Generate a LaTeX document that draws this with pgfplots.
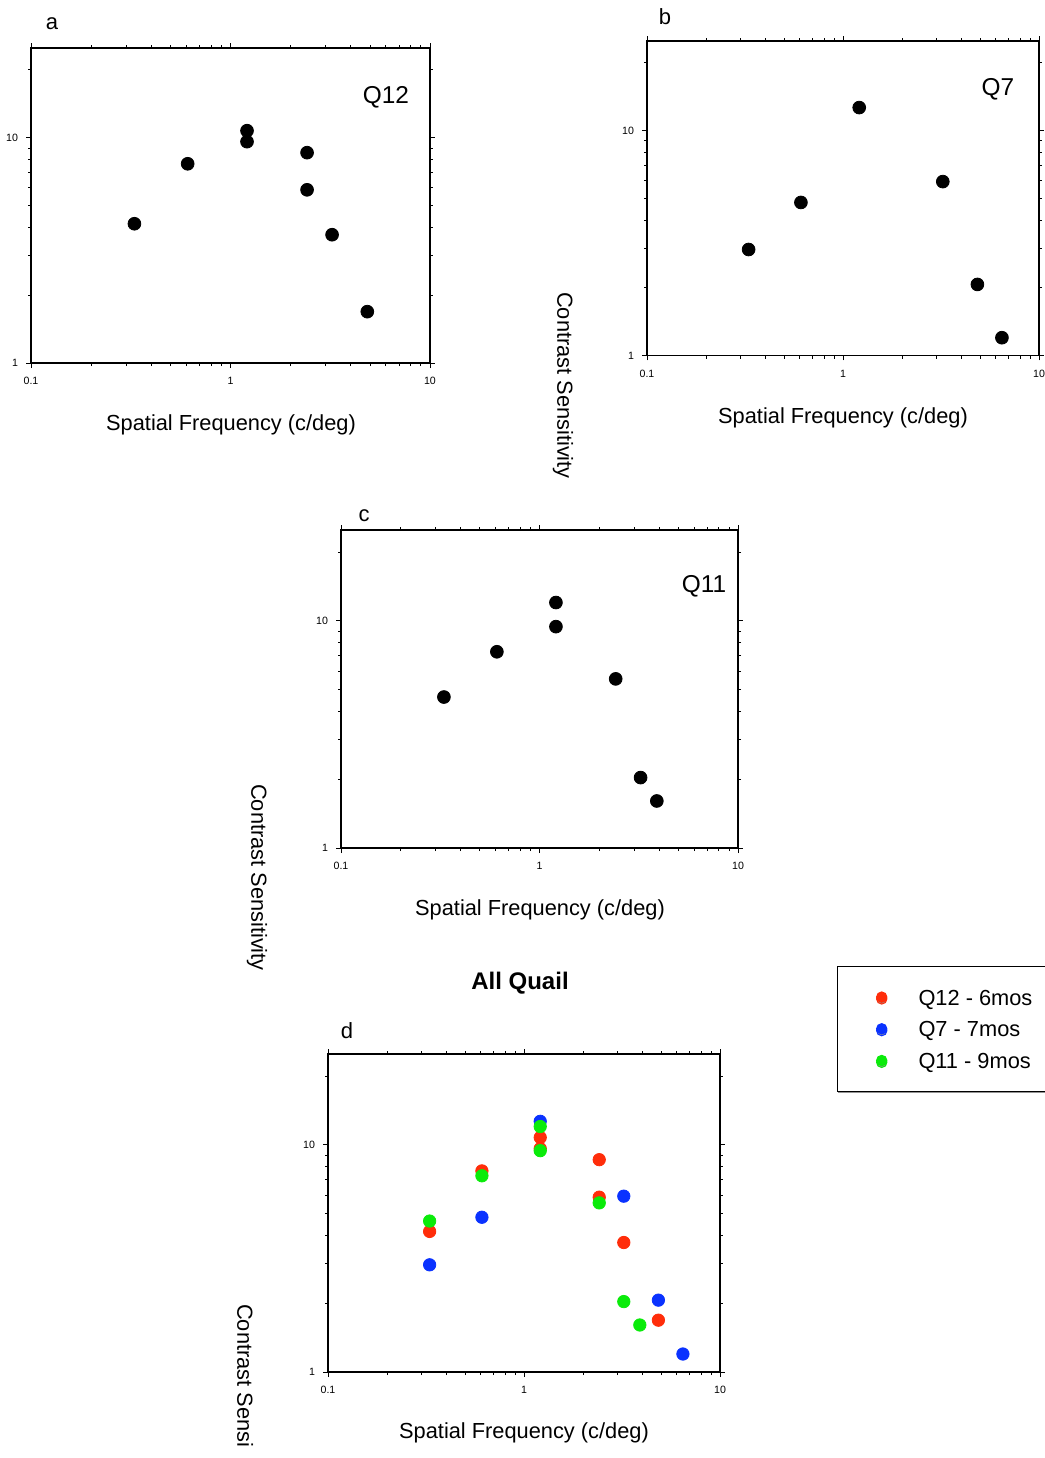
\documentclass[border=0pt]{standalone}
\usepackage{fontspec}
\setmainfont{Liberation Sans}
\usepackage{pgfplots}
\usepackage{pgfplotstable}
\pgfplotsset{compat=1.18}
\usetikzlibrary{shadows}

\definecolor{qred}{RGB}{255,45,10}
\definecolor{qblue}{RGB}{10,50,255}
\definecolor{qgreen}{RGB}{10,235,10}

\newcommand{\labfont}{\fontsize{10.9}{13}\selectfont}

% contrast sensitivity functions, one table per bird
\pgfplotstableread{
sf    cs
0.33  4.15
0.61  7.66
1.21  10.74
1.21  9.60
2.42  8.58
2.42  5.87
3.23  3.71
4.85  1.69
}\qtwelve
\pgfplotstableread{
sf    cs
0.33  2.96
0.61  4.79
1.21  12.65
3.23  5.93
4.85  2.07
6.47  1.20
}\qseven
\pgfplotstableread{
sf    cs
0.33  4.61
0.61  7.29
1.21  12.0
1.21  9.40
2.42  5.54
3.23  2.04
3.90  1.61
}\qeleven

% common look of the four log-log panels
\pgfplotsset{
  every axis/.append style={
    scale only axis,
    xmin=0.1, xmax=10, ymin=1, ymax=25,
    xtick={0.1,1,10}, xticklabels={0.1,1,10},
    ytick={1,10}, yticklabels={1,10},
    minor xtick={0.2,0.3,0.4,0.5,0.6,0.7,0.8,0.9,2,3,4,5,6,7,8,9},
    minor ytick={2,3,4,5,6,7,8,9,20},
    tick align=outside,
    major tick length=2.5pt, minor tick length=1.5pt,
    tick style={black, line width=0.4pt},
    axis line style={line width=0.55pt},
    tick label style={font=\fontsize{5.3}{6}\selectfont},
    xticklabel style={yshift=-1.2pt},
    yticklabel style={xshift=-0.5pt},
    clip=false,
  },
}

\begin{document}
\begin{tikzpicture}
\path[use as bounding box] (0,0) rectangle (522.5pt,-729pt);

% a
\begin{loglogaxis}[at={(15.5pt,-181.5pt)}, anchor=south west, width=199.5pt, height=157.5pt]
  \addplot[black, only marks, mark=*, mark size=3.2pt] table[x=sf,y=cs] {\qtwelve};
\end{loglogaxis}
% b
\begin{loglogaxis}[at={(323.5pt,-177.75pt)}, anchor=south west, width=196pt, height=157.25pt]
  \addplot[black, only marks, mark=*, mark size=3.2pt] table[x=sf,y=cs] {\qseven};
\end{loglogaxis}
% c
\begin{loglogaxis}[at={(170.5pt,-424pt)}, anchor=south west, width=198.5pt, height=159pt]
  \addplot[black, only marks, mark=*, mark size=3.2pt] table[x=sf,y=cs] {\qeleven};
\end{loglogaxis}
% d: all birds together
\begin{loglogaxis}[at={(164pt,-686pt)}, anchor=south west, width=196pt, height=159pt,
    legend cell align=left,
    legend style={at={(1.2993,1.2777)}, anchor=north west,
      draw=black, line width=0.5pt, fill=white,
      drop shadow={shadow xshift=0pt, shadow yshift=-0.9pt, fill=gray!85, opacity=1},
      inner xsep=19.1pt, inner ysep=11.5pt,
      row sep=7.95pt, column sep=15.55pt,
      nodes={inner sep=0pt, text height=7.9pt, text depth=0pt},
      font=\labfont},
    legend image code/.code={\fill (0pt,0pt) circle (2.6pt);},
  ]
  \addplot[qred, only marks, mark=*, mark size=3.1pt]   table[x=sf,y=cs] {\qtwelve};
  \addplot[qblue, only marks, mark=*, mark size=3.1pt]  table[x=sf,y=cs] {\qseven};
  \addplot[qgreen, only marks, mark=*, mark size=3.1pt] table[x=sf,y=cs] {\qeleven};
  \legend{Q12 - 6mos, Q7 - 7mos, Q11 - 9mos}
\end{loglogaxis}

% panel letters and bird names
\node[font=\fontsize{11}{13}\selectfont] at (26pt,-11.8pt) {a};
\node[font=\fontsize{11}{13}\selectfont] at (332.5pt,-8.2pt) {b};
\node[font=\fontsize{11}{13}\selectfont] at (182pt,-257.8pt) {c};
\node[font=\fontsize{11}{13}\selectfont] at (173.5pt,-515.2pt) {d};
\node[font=\fontsize{12.2}{14}\selectfont] at (193pt,-48.5pt) {Q12};
\node[font=\fontsize{12.2}{14}\selectfont] at (499pt,-44.5pt) {Q7};
\node[font=\fontsize{12.2}{14}\selectfont] at (352pt,-293pt) {Q11};
\node[font=\fontsize{12}{14}\selectfont\bfseries] at (260pt,-491.5pt) {All Quail};

% axis titles
\node[font=\labfont] at (115.5pt,-212.5pt) {Spatial Frequency (c/deg)};
\node[font=\labfont] at (421.5pt,-209pt) {Spatial Frequency (c/deg)};
\node[font=\labfont] at (270pt,-455pt) {Spatial Frequency (c/deg)};
\node[font=\labfont] at (262pt,-716.5pt) {Spatial Frequency (c/deg)};
\node[font=\labfont, rotate=-90] at (281.5pt,-192.75pt) {Contrast Sensitivity};
\node[font=\labfont, rotate=-90] at (128.5pt,-438.75pt) {Contrast Sensitivity};
\begin{scope}
  \clip (80pt,-600pt) rectangle (160pt,-723pt);
  \node[font=\labfont, rotate=-90] at (121.5pt,-698.75pt) {Contrast Sensitivity};
\end{scope}
\end{tikzpicture}
\end{document}
